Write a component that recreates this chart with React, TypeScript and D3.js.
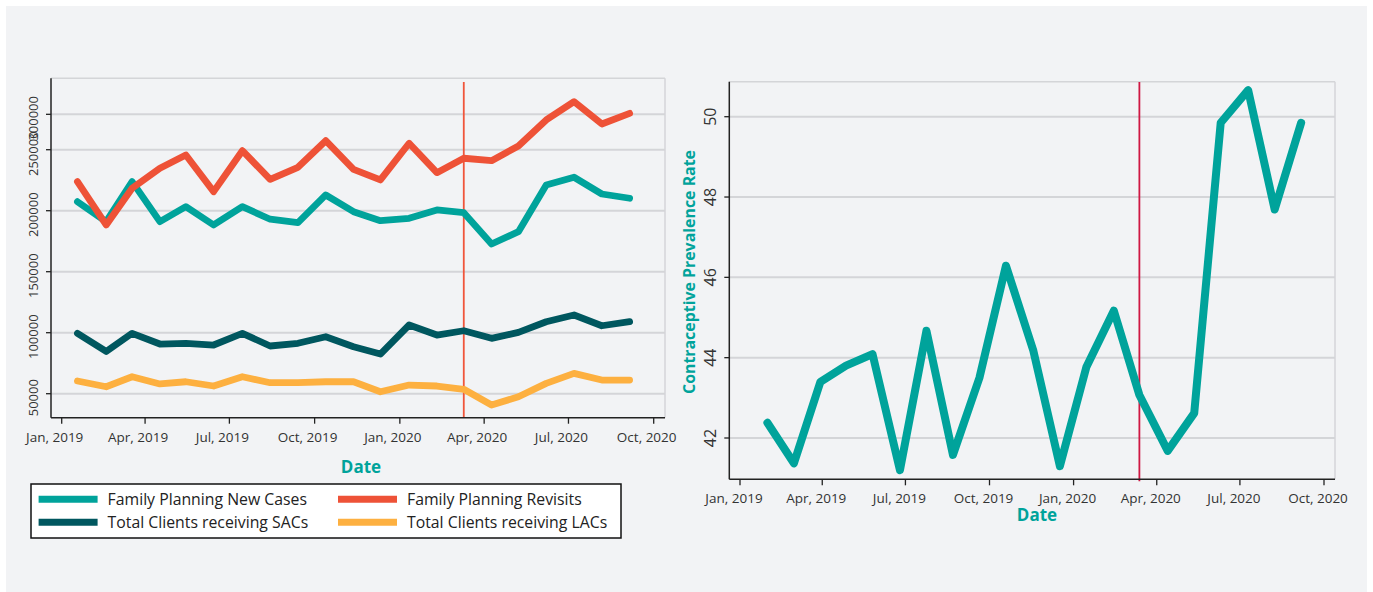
import React from "react";
import * as d3 from "d3";

// ---------- DATA ----------
const leftDates = [
  "2019-01-18", "2019-02-18", "2019-03-18", "2019-04-17", "2019-05-15", "2019-06-14",
  "2019-07-15", "2019-08-14", "2019-09-13", "2019-10-13", "2019-11-12", "2019-12-11",
  "2020-01-11", "2020-02-10", "2020-03-10", "2020-04-09", "2020-05-08", "2020-06-07",
  "2020-07-07", "2020-08-06", "2020-09-05",
];
const newCases = [
  207400, 191000, 223800, 191000, 203300, 188300, 203300, 193000, 190200, 212900, 199200,
  191800, 193800, 200600, 198400, 172700, 182800, 221100, 227400, 213700, 210200,
];
const revisits = [
  223800, 188300, 218400, 234800, 245700, 215600, 249200, 225700, 235600, 257400, 233900,
  225200, 255300, 231200, 243000, 241000, 253000, 274400, 289400, 271100, 279800,
];
const sacs = [
  99500, 84600, 99500, 90700, 91300, 89900, 99500, 89100, 91300, 96700, 88500,
  82500, 106300, 98100, 101600, 95400, 100300, 109000, 114500, 105700, 109000,
];
const lacs = [
  60400, 55700, 63900, 58000, 59800, 56300, 63900, 59000, 59000, 59800, 59800,
  51600, 57100, 56300, 53600, 40700, 47500, 58500, 66700, 61200, 61200,
];
const seriesNames = [
  "Family Planning New Cases",
  "Family Planning Revisits",
  "Total Clients receiving SACs",
  "Total Clients receiving LACs",
];
const seriesColors = ["#00a39b", "#ee5237", "#00575f", "#fdb040"];

const rightDates = [
  "2019-01-31", "2019-03-01", "2019-03-30", "2019-04-27", "2019-05-26", "2019-06-25",
  "2019-07-24", "2019-08-22", "2019-09-20", "2019-10-19", "2019-11-18", "2019-12-17",
  "2020-01-15", "2020-02-14", "2020-03-13", "2020-04-13", "2020-05-12", "2020-06-10",
  "2020-07-10", "2020-08-08", "2020-09-06",
];
const cpr = [
  42.38, 41.37, 43.4, 43.8, 44.09, 41.2, 44.67, 41.58, 43.5, 46.29, 44.17,
  41.3, 43.77, 45.17, 43.07, 41.68, 42.62, 49.85, 50.66, 47.69, 49.85,
];

const xTickDates = [
  "2019-01-01", "2019-04-01", "2019-07-01", "2019-10-01",
  "2020-01-01", "2020-04-01", "2020-07-01", "2020-10-01",
];
const xTickLabels = [
  "Jan, 2019", "Apr, 2019", "Jul, 2019", "Oct, 2019",
  "Jan, 2020", "Apr, 2020", "Jul, 2020", "Oct, 2020",
];
const leftYTicks = [50000, 100000, 150000, 200000, 250000, 279000];
const leftYTickLabels = ["50000", "100000", "150000", "200000", "250000", "300000"];
const rightYTicks = [42, 44, 46, 48, 50];
const rightYTickLabels = ["42", "44", "46", "48", "50"];

// ---------- STYLE ----------
const FONT = "'Open Sans', 'Noto Sans', sans-serif";
const TEAL = "#00a39b";
const GRID = "#d4d5d8";
const AXIS = "#222";
const BG = "#f2f3f5";

const pd = (s: string) => new Date(s + "T00:00:00Z");

export default function App() {
  // left chart geometry
  const L = { x0: 51, x1: 665, y0: 78.3, y1: 417.7 };
  const lx = d3.scaleUtc().domain([pd("2019-01-01"), pd("2020-10-01")]).range([61.7, 653.7]);
  const ly = d3.scaleLinear().domain([50000, 250000]).range([393.7, 149.7]);

  // right chart geometry
  const R = { x0: 729.3, x1: 1335, y0: 81.7, y1: 479.3 };
  const rx = d3.scaleUtc().domain([pd("2019-01-01"), pd("2020-10-01")]).range([740, 1324]);
  const ry = d3.scaleLinear().domain([42, 50]).range([438, 116.7]);

  const leftSeries = [newCases, revisits, sacs, lacs];
  const leftLine = d3
    .line<number>()
    .x((_, i) => lx(pd(leftDates[i])))
    .y((d) => ly(d));
  const rightLine = d3
    .line<number>()
    .x((_, i) => rx(pd(rightDates[i])))
    .y((d) => ry(d));

  const leftEvent = lx(pd(leftDates[14]));
  const rightEvent = rx(pd(rightDates[14]));

  const legendItems = [0, 1, 2, 3];

  return (
    <svg
      width={1373}
      height={592}
      style={{ position: "absolute", left: 0, top: 0, fontFamily: FONT }}
    >
      <rect x={0} y={0} width={1373} height={592} fill="#ffffff" />
      <rect x={6} y={6} width={1361} height={586} fill={BG} />

      {/* ---------------- LEFT CHART ---------------- */}
      <g>
        {leftYTicks.map((t, i) => (
          <line key={"lg" + i} x1={L.x0} x2={L.x1} y1={ly(t)} y2={ly(t)} stroke={GRID} strokeWidth={2} />
        ))}
        <line x1={L.x0} x2={L.x1} y1={L.y0} y2={L.y0} stroke={GRID} strokeWidth={1.5} />
        <line x1={L.x1} x2={L.x1} y1={L.y0} y2={L.y1} stroke={GRID} strokeWidth={1.5} />

        <line x1={leftEvent} x2={leftEvent} y1={82} y2={L.y1} stroke="#f0553a" strokeWidth={1.8} />

        {leftSeries.map((s, k) => (
          <path
            key={"ls" + k}
            d={leftLine(s) || ""}
            fill="none"
            stroke={seriesColors[k]}
            strokeWidth={6.8}
            strokeLinejoin="round"
            strokeLinecap="round"
          />
        ))}

        {/* axes */}
        <line x1={L.x0} x2={L.x0} y1={L.y0} y2={L.y1} stroke={AXIS} strokeWidth={1.5} />
        <line x1={L.x0} x2={L.x1} y1={L.y1} y2={L.y1} stroke={AXIS} strokeWidth={1.5} />
        {leftYTicks.map((t, i) => (
          <g key={"lyt" + i}>
            <line x1={L.x0 - 5} x2={L.x0} y1={ly(t)} y2={ly(t)} stroke={AXIS} strokeWidth={1.3} />
            <text
              transform={`translate(37.5, ${ly(t) + 4}) rotate(-90)`}
              textAnchor="middle"
              fontSize={13}
              fill="#333"
            >
              {leftYTickLabels[i]}
            </text>
          </g>
        ))}
        {xTickDates.map((t, i) => (
          <g key={"lxt" + i}>
            <line x1={lx(pd(t))} x2={lx(pd(t))} y1={L.y1} y2={L.y1 + 6} stroke={AXIS} strokeWidth={1.3} />
            <text x={lx(pd(t)) - 7} y={441.5} textAnchor="middle" fontSize={13.5} fill="#333">
              {xTickLabels[i]}
            </text>
          </g>
        ))}
        <text x={361} y={472.5} textAnchor="middle" fontSize={17} fontWeight={700} fill={TEAL}>
          Date
        </text>

        {/* legend */}
        <rect x={31} y={484} width={590} height={54} fill="#ffffff" stroke="#111" strokeWidth={1.5} />
        {legendItems.map((k) => {
          const col = k % 2;
          const row = Math.floor(k / 2);
          const sx = col === 0 ? 38.6 : 338;
          const cy = row === 0 ? 499.3 : 522.3;
          return (
            <g key={"lg" + k}>
              <line x1={sx} x2={sx + 59} y1={cy} y2={cy} stroke={seriesColors[k]} strokeWidth={7} />
              <text x={sx + 69} y={cy + 5.5} fontSize={15.8} fill="#222">
                {seriesNames[k]}
              </text>
            </g>
          );
        })}
      </g>

      {/* ---------------- RIGHT CHART ---------------- */}
      <g>
        {rightYTicks.map((t, i) => (
          <line key={"rg" + i} x1={R.x0} x2={R.x1} y1={ry(t)} y2={ry(t)} stroke={GRID} strokeWidth={2} />
        ))}
        <line x1={R.x0} x2={R.x1} y1={R.y0} y2={R.y0} stroke={GRID} strokeWidth={1.5} />
        <line x1={R.x1} x2={R.x1} y1={R.y0} y2={R.y1} stroke={GRID} strokeWidth={1.5} />

        <line x1={rightEvent} x2={rightEvent} y1={82} y2={R.y1 + 2} stroke="#cf1742" strokeWidth={1.8} />

        <path
          d={rightLine(cpr) || ""}
          fill="none"
          stroke={TEAL}
          strokeWidth={8}
          strokeLinejoin="round"
          strokeLinecap="round"
        />

        <line x1={R.x0} x2={R.x0} y1={R.y0} y2={R.y1} stroke={AXIS} strokeWidth={1.5} />
        <line x1={R.x0} x2={R.x1} y1={R.y1} y2={R.y1} stroke={AXIS} strokeWidth={1.5} />
        {rightYTicks.map((t, i) => (
          <g key={"ryt" + i}>
            <line x1={R.x0 - 5} x2={R.x0} y1={ry(t)} y2={ry(t)} stroke={AXIS} strokeWidth={1.3} />
            <text
              transform={`translate(715.5, ${ry(t)}) rotate(-90)`}
              textAnchor="middle"
              fontSize={16}
              fill="#333"
            >
              {rightYTickLabels[i]}
            </text>
          </g>
        ))}
        {xTickDates.map((t, i) => (
          <g key={"rxt" + i}>
            <line x1={rx(pd(t))} x2={rx(pd(t))} y1={R.y1} y2={R.y1 + 6} stroke={AXIS} strokeWidth={1.3} />
            <text x={rx(pd(t)) - 6} y={503} textAnchor="middle" fontSize={13.5} fill="#333">
              {xTickLabels[i]}
            </text>
          </g>
        ))}
        <text x={1037} y={521} textAnchor="middle" fontSize={17} fontWeight={700} fill={TEAL}>
          Date
        </text>
        <text
          transform="translate(695, 272) rotate(-90)"
          textAnchor="middle"
          fontSize={15.9}
          fontWeight={700}
          fill={TEAL}
        >
          Contraceptive Prevalence Rate
        </text>
      </g>
    </svg>
  );
}
